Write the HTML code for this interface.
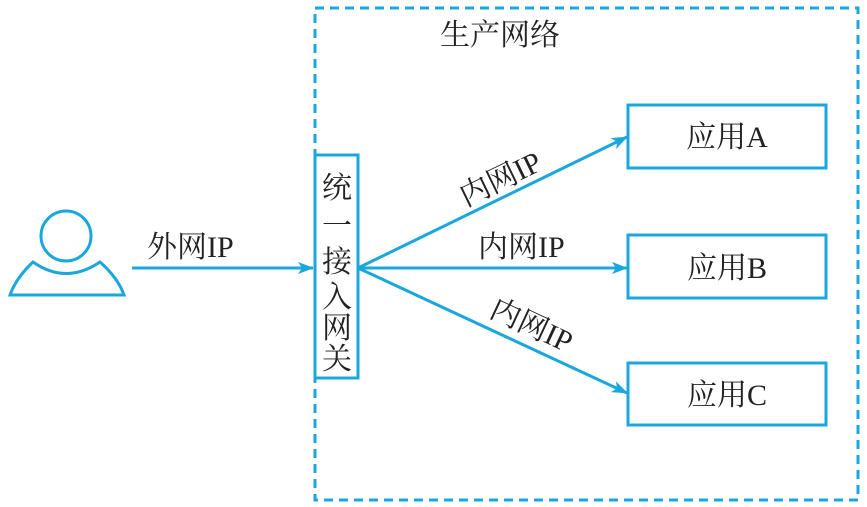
<!DOCTYPE html>
<html><head><meta charset="utf-8"><style>
html,body{margin:0;padding:0;background:#fff;width:867px;height:507px;overflow:hidden}
text{font-family:"Liberation Serif","Noto Serif CJK SC",serif;fill:#222}
</style></head><body>
<svg width="867" height="507" viewBox="0 0 867 507" xmlns="http://www.w3.org/2000/svg">
<defs><marker id="a" markerWidth="16" markerHeight="12" refX="15" refY="6" orient="auto" markerUnits="userSpaceOnUse"><path d="M0,0 L16,6 L0,12 L4,6 Z" fill="#1aa7dc"/></marker></defs>
<g stroke="#1aa7dc" fill="none" stroke-width="3">
<rect x="315" y="8" width="543" height="492" stroke-dasharray="9,6"/>
<circle cx="66" cy="236" r="25"/>
<path d="M33,262 Q66,285 100,262 Q118,278 124,295 L10,295 Q16,278 33,262 Z"/>
<line x1="132" y1="268" x2="313" y2="268" marker-end="url(#a)"/>
<rect x="315" y="155" width="43" height="223" fill="#fff"/>
<line x1="358" y1="268" x2="627" y2="137" marker-end="url(#a)"/>
<line x1="358" y1="268" x2="627" y2="268" marker-end="url(#a)"/>
<line x1="358" y1="268" x2="627" y2="393" marker-end="url(#a)"/>
<rect x="628" y="105" width="198" height="63"/>
<rect x="628" y="235" width="198" height="63"/>
<rect x="628" y="363" width="198" height="62"/>
</g>
<g font-size="30">
<text x="440" y="45">生产网络</text>
<text x="147" y="257">外网IP</text>
<text x="478" y="257">内网IP</text>
<text transform="translate(466,207) rotate(-26)">内网IP</text>
<text transform="translate(488,316) rotate(25)">内网IP</text>
<text x="727" y="147" text-anchor="middle">应用A</text>
<text x="727" y="278" text-anchor="middle">应用B</text>
<text x="727" y="405" text-anchor="middle">应用C</text>
<text x="337" y="198" text-anchor="middle">统</text>
<text x="337" y="236" text-anchor="middle">一</text>
<text x="337" y="272" text-anchor="middle">接</text>
<text x="337" y="307" text-anchor="middle">入</text>
<text x="337" y="338" text-anchor="middle">网</text>
<text x="337" y="369" text-anchor="middle">关</text>
</g>
</svg>
</body></html>
